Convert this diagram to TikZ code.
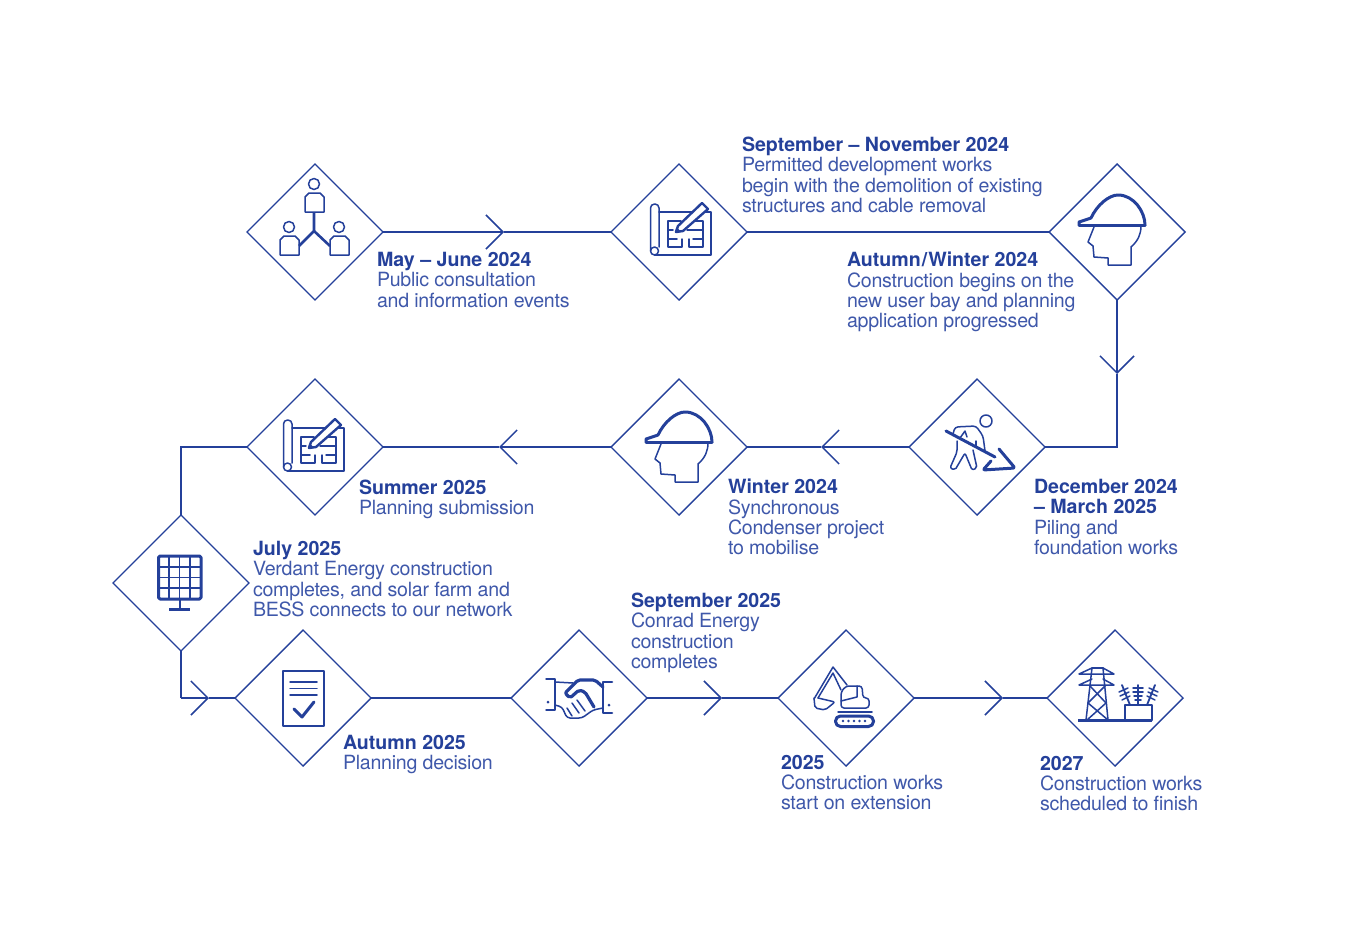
\documentclass[tikz,border=0pt]{standalone}
\usepackage{fontspec}
\usepackage{tikz}
\usetikzlibrary{arrows.meta, shapes.geometric}
\setmainfont{TeX Gyre Heros}[LetterSpace=-1.3, BoldFeatures={LetterSpace=0}]

\definecolor{routeblue}{HTML}{24409A}
\definecolor{noteblue}{HTML}{3F58AA}

\newcommand{\datehead}[1]{{\color{routeblue}\bfseries #1}}

\tikzset{
    stage/.style={shape=diamond, draw=routeblue, line width=1.4pt, fill=white, minimum width=136pt, minimum height=136pt, inner sep=0pt, outer sep=0pt},
    note/.style={anchor=north west, align=left, inner sep=0pt, outer sep=0pt, text=noteblue, font=\fontsize{19.6}{20.4}\selectfont},
    route/.style={draw=routeblue, line width=1.5pt},
    chevron/.style={route, -{Straight Barb[length=17pt, width=34pt, line width=1.5pt]}},
    thinline/.style={draw=routeblue, line width=1.5pt, line join=round, line cap=round},
    boldline/.style={draw=routeblue, line width=3pt, line join=round, line cap=round},
    pics/hardhat/.style={code={
        \draw[thinline] (-23,-5) -- (-29,10) -- (-24,14) -- (-23,25) -- (-9,26) -- (-9,33) -- (14,33) -- (14,15) .. controls (21,9) and (24,2) .. (24,-6);
        \draw[boldline] (-26,-14) .. controls (-20,-27) and (-8,-37) .. (1,-37) .. controls (17,-37) and (28,-20) .. (28,-7);
        \draw[boldline] (-38,-7) -- (28,-7);
        \draw[boldline] (-38,-7) -- (-38,-10) -- (-26,-14);
    }},
    pics/floorplan/.style={code={
        \draw[thinline, rounded corners=4pt] (-28.5,19) -- (-28.5,-28) -- (-20,-28) -- (-20,15);
        \draw[thinline] (-24.5,19) circle (4);
        \draw[thinline] (-20,-20) -- (32,-20) -- (32,23) -- (-24.5,23);
        \draw[thinline] (2,-11) -- (-11,-11) -- (-11,15) -- (3,15) -- (3,7);
        \draw[thinline] (-11,-2) -- (-6,-2);
        \draw[thinline] (-11,7) -- (-2,7);
        \draw[thinline] (12,-11) -- (24,-11) -- (24,15) -- (10,15) -- (10,7);
        \draw[thinline] (8,-2) -- (24,-2);
        \draw[thinline] (14,7) -- (24,7);
        \draw[boldline, line width=2.4pt, fill=white] (-3,0) -- (-1,-6) -- (23,-29) -- (29,-23) -- (4,-1) -- cycle;
        \draw[boldline, line width=2pt, fill=routeblue] (-3,0) -- (-2,-3) -- (0,-1) -- cycle;
    }},
}

\begin{document}
\begin{tikzpicture}[x=1pt, y=-1pt]
    \useasboundingbox (0,0) rectangle (1360,950);

    % stages, in order along the route
    \node[stage] (consult) at (315,232) {};
    \node[stage] (demolish) at (679,232) {};
    \node[stage] (bay) at (1117,232) {};
    \node[stage] (piling) at (977,447) {};
    \node[stage] (condenser) at (679,447) {};
    \node[stage] (submit) at (315,447) {};
    \node[stage] (solar) at (181,583) {};
    \node[stage] (decide) at (303,698) {};
    \node[stage] (conrad) at (579,698) {};
    \node[stage] (extend) at (846,698) {};
    \node[stage] (finish) at (1115,698) {};

    % chevrons and corners of the route
    \coordinate (c1) at (504,232);
    \coordinate (c2) at (1117,374);
    \coordinate (k2) at (1117,447);
    \coordinate (c3) at (821,447);
    \coordinate (c4) at (499,447);
    \coordinate (k4) at (181,447);
    \coordinate (k5) at (181,698);
    \coordinate (c5) at (209,698);
    \coordinate (c6) at (722,698);
    \coordinate (c7) at (1003,698);

    \draw[chevron] (consult.east) -- (c1);
    \draw[route] (c1) -- (demolish.west);
    \draw[route] (demolish.east) -- (bay.west);
    \draw[chevron] (bay.south) -- (c2);
    \draw[route] (c2) -- (k2) -- (piling.east);
    \draw[chevron] (piling.west) -- (c3);
    \draw[route] (c3) -- (condenser.east);
    \draw[chevron] (condenser.west) -- (c4);
    \draw[route] (c4) -- (submit.east);
    \draw[route] (submit.west) -- (k4) -- (solar.north);
    \draw[route] (solar.south) -- (k5);
    \draw[chevron] (k5) -- (c5);
    \draw[route] (c5) -- (decide.west);
    \draw[route] (decide.east) -- (conrad.west);
    \draw[chevron] (conrad.east) -- (c6);
    \draw[route] (c6) -- (extend.west);
    \draw[chevron] (extend.east) -- (c7);
    \draw[route] (c7) -- (finish.west);

    % people
    \draw[thinline] (314,184) circle (5.5);
    \draw[thinline] (289,227) circle (5.5);
    \draw[thinline] (339,227) circle (5.5);
    \draw[thinline] (305,212) -- (305,197) -- (309,193) -- (320,193) -- (324,197) -- (324,212) -- cycle;
    \draw[thinline] (280,255) -- (280,240) -- (284,236) -- (295,236) -- (299,240) -- (299,255) -- cycle;
    \draw[thinline] (330,255) -- (330,240) -- (334,236) -- (345,236) -- (349,240) -- (349,255) -- cycle;
    \draw[boldline, line width=2.6pt, line cap=butt] (314,212) -- (314,231) -- (299,246);
    \draw[boldline, line width=2.6pt, line cap=butt] (314,231) -- (330,246);

    \pic at (demolish) {floorplan};
    \pic at (bay) {hardhat};
    \pic at ([shift={(5,2)}]condenser) {hardhat};
    \pic at ([shift={(-3,1)}]submit) {floorplan};

    % digger
    \draw[thinline] (986,421) circle (6);
    \draw[thinline, rounded corners=3pt] (953,434) -- (955,427) -- (976,426) -- (983,436) -- (985,451);
    \draw[thinline, rounded corners=2pt] (957,441) -- (957,452) -- (950,468) -- (955,470) -- (965,453) -- (972,470) -- (977,468) -- (973,450);
    \draw[thinline] (960,438) -- (965,431) -- (967,437);
    \draw[thinline] (976,441) -- (976,446);
    \draw[boldline] (946,431) -- (995,457);
    \draw[boldline, rounded corners=2pt] (999,449) -- (1015,468) -- (983,470) -- (991,461);

    % solar panel
    \draw[boldline, rounded corners=1.5pt] (158.5,556) rectangle (201,599);
    \foreach \gx in {169,179.5,190} {
        \draw[thinline] (\gx,556) -- (\gx,599);
    }
    \foreach \gy in {567,577.5,588} {
        \draw[thinline] (158.5,\gy) -- (201,\gy);
    }
    \draw[boldline, line width=2.2pt] (180,599) -- (180,608);
    \draw[boldline, line cap=butt] (169,609) -- (190,609);

    % document
    \draw[thinline] (283,671) rectangle (324,726);
    \foreach \ly in {682,688.5,695} {
        \draw[thinline] (290,\ly) -- (317,\ly);
    }
    \draw[boldline] (294,709) -- (302,717) -- (314,702);

    % handshake
    \draw[thinline] (546,679) -- (555,679) -- (555,710) -- (546,710);
    \draw[boldline, line width=2.6pt] (612,682) -- (603,682) -- (603,713) -- (612,713);
    \fill[routeblue] (548,702) circle (1.5);
    \fill[routeblue] (609,705) circle (1.5);
    \draw[thinline] (555,682) -- (573,683);
    \draw[boldline, line width=3.2pt, rounded corners=2pt] (603,687) -- (595,680) -- (578,680) -- (565,693) -- (570,698) -- (579,690) -- (585,692) -- (594,707);
    \draw[thinline, rounded corners=3pt] (555,705) -- (562,707) -- (567,718) -- (582,718) -- (593,710) -- (603,708);
    \draw[thinline] (572,703) -- (579,713);
    \draw[thinline] (577,700) -- (585,711);
    \draw[thinline] (567,708) -- (572,716);

    % excavator
    \draw[thinline] (847,685) -- (833,667) -- (814,699);
    \draw[thinline] (841,690) -- (833,673) -- (818,698);
    \draw[thinline, rounded corners=2pt] (814,698) -- (815,708) -- (825,710) -- (835,702) -- (818,698);
    \draw[thinline, rounded corners=3pt] (841,708) -- (841,692) -- (846,686) -- (862,686) -- (863,698) -- (869,698) -- (869,708) -- cycle;
    \draw[thinline] (841,701) -- (857,697) -- (857,686);
    \draw[thinline] (838,712) -- (872,712);
    \draw[boldline, rounded corners=5pt] (835.5,716) rectangle (873.5,726.5);
    \foreach \dx in {843,848.5,854,859.5,865} {
        \fill[routeblue] (\dx,721) circle (1.3);
    }

    % pylon and transformer
    \draw[boldline, line cap=butt] (1078,720) -- (1152,720);
    \draw[thinline] (1092,668) -- (1103,668);
    \draw[thinline] (1092,668) -- (1079,674) -- (1114,674) -- (1103,668);
    \draw[thinline] (1092,679) -- (1079,685) -- (1114,685) -- (1103,679);
    \draw[thinline] (1092,668) -- (1086,720);
    \draw[thinline] (1103,668) -- (1108,720);
    \draw[thinline] (1090,686) -- (1106,703) -- (1087,720);
    \draw[thinline] (1105,686) -- (1088,703) -- (1108,720);
    \draw[boldline, line width=2.4pt] (1125,720) -- (1125,705) -- (1152,705) -- (1152,720);
    \foreach \tip/\foot in {1122/1130, 1138/1138, 1155/1147} {
        \draw[thinline, line width=1.8pt] (\foot,705) -- (\tip,685);
    }
    \foreach \cy/\cl/\cr in {688/1133/1143, 692/1133/1143, 696/1134/1142, 700/1135/1141} {
        \draw[thinline] (\cl,\cy) -- (\cr,\cy);
    }
    \draw[thinline] (1119,692) -- (1128,688);
    \draw[thinline] (1120,696) -- (1129,692);
    \draw[thinline] (1122,700) -- (1130,696);
    \draw[thinline] (1149,688) -- (1158,692);
    \draw[thinline] (1148,692) -- (1157,696);
    \draw[thinline] (1147,696) -- (1155,700);

    % texts
    \node[note] (consulttext) at (377,252) {\datehead{May – June 2024}\\Public consultation\\and information events};
    \node[note] (demolishtext) at (742,137) {\datehead{September – November 2024}\\Permitted development works\\begin with the demolition of existing\\structures and cable removal};
    \node[note] (baytext) at (847,252) {\datehead{Autumn\kern1pt/\kern1pt Winter 2024}\\Construction begins on the\\new user bay and planning\\application progressed};
    \node[note] (pilingtext) at (1034,479) {\datehead{December 2024}\\\datehead{– March 2025}\\Piling and\\foundation works};
    \node[note] (condensertext) at (728,479) {\datehead{Winter 2024}\\Synchronous\\Condenser project\\to mobilise};
    \node[note] (submittext) at (359,480) {\datehead{Summer 2025}\\Planning submission};
    \node[note] (solartext) at (253,541) {\datehead{July 2025}\\Verdant Energy construction\\completes, and solar farm and\\BESS connects to our network};
    \node[note] (conradtext) at (631,593) {\datehead{September 2025}\\Conrad Energy\\construction\\completes};
    \node[note] (decidetext) at (343,735) {\datehead{Autumn 2025}\\Planning decision};
    \node[note] (extendtext) at (781,755) {\datehead{2025}\\Construction works\\start on extension};
    \node[note] (finishtext) at (1040,756) {\datehead{2027}\\Construction works\\scheduled to finish};
\end{tikzpicture}
\end{document}
